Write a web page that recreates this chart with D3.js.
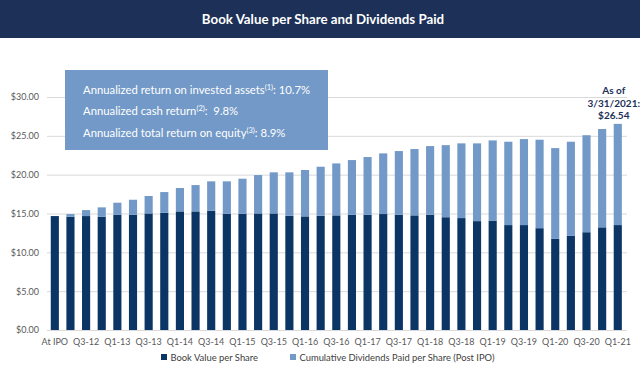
<!DOCTYPE html>
<html>
<head>
<meta charset="utf-8">
<script src="https://cdn.jsdelivr.net/npm/d3@7"></script>
<style>
  body { margin: 0; background: #fff; }
  text { font-family: Lato, "Open Sans", sans-serif; }
</style>
</head>
<body>
<script>
// quarters (only every other one gets a label)
var quarters = ["At IPO","Q2-12","Q3-12","Q4-12","Q1-13","Q2-13","Q3-13","Q4-13","Q1-14","Q2-14",
  "Q3-14","Q4-14","Q1-15","Q2-15","Q3-15","Q4-15","Q1-16","Q2-16","Q3-16","Q4-16","Q1-17","Q2-17",
  "Q3-17","Q4-17","Q1-18","Q2-18","Q3-18","Q4-18","Q1-19","Q2-19","Q3-19","Q4-19","Q1-20","Q2-20",
  "Q3-20","Q4-20","Q1-21"];
var bookValue = [14.67,14.58,14.67,14.58,14.84,14.84,15.01,15.10,15.27,15.27,15.36,14.97,14.97,15.01,
  15.01,14.71,14.63,14.71,14.76,14.84,14.84,14.93,14.84,14.76,14.84,14.52,14.41,14.02,14.09,13.51,
  13.51,13.11,11.73,12.12,12.59,13.22,13.51];
var dividends = [0,0.35,0.77,1.21,1.55,1.93,2.24,2.66,3.01,3.39,3.78,4.17,4.51,4.94,5.29,5.59,5.97,
  6.31,6.69,7.04,7.43,7.81,8.20,8.54,8.84,9.28,9.62,10.01,10.32,10.73,11.07,11.39,11.69,12.12,12.49,
  12.66,13.03];
var yTicks = [0,5,10,15,20,25,30];
var seriesNames = ["Book Value per Share","Cumulative Dividends Paid per Share (Post IPO)"];
var colors = ["#0b3565","#7299c7"];

var width = 640, height = 368;
var svg = d3.select("body").append("svg")
    .attr("width", width)
    .attr("height", height);

// title banner
svg.append("rect").attr("width", width).attr("height", 38).attr("fill", "#1c3058");
svg.append("text")
    .attr("x", 323).attr("y", 24)
    .attr("text-anchor", "middle")
    .attr("fill", "#fff")
    .attr("font-size", 13.3)
    .attr("font-weight", "bold")
    .text("Book Value per Share and Dividends Paid");

var x = d3.scaleBand().domain(quarters).range([47, 625.6]).paddingInner(0.48).paddingOuter(0.24);
var y = d3.scaleLinear().domain([0, 30]).range([330, 97]);

// gridlines + y labels
var yAxis = svg.append("g")
    .attr("transform", "translate(47,0)")
    .call(d3.axisLeft(y).tickValues(yTicks).tickSize(-(627 - 47)).tickPadding(8)
      .tickFormat(function(d){ return "$" + d.toFixed(2); }));
yAxis.select(".domain").remove();
yAxis.selectAll("line").attr("stroke", "#d9d9d9");
yAxis.selectAll("text").attr("fill", "#595959").attr("font-size", 9);

var rows = quarters.map(function(q, i){ return {q: q, bv: bookValue[i], div: dividends[i]}; });

svg.selectAll(".bv").data(rows).enter().append("rect")
    .attr("x", function(d){ return x(d.q); })
    .attr("width", x.bandwidth())
    .attr("y", function(d){ return y(d.bv); })
    .attr("height", function(d){ return y(0) - y(d.bv); })
    .attr("fill", colors[0]);

svg.selectAll(".div").data(rows).enter().append("rect")
    .attr("x", function(d){ return x(d.q); })
    .attr("width", x.bandwidth())
    .attr("y", function(d){ return y(d.bv + d.div); })
    .attr("height", function(d){ return y(d.bv) - y(d.bv + d.div); })
    .attr("fill", colors[1]);

// x labels
var xAxis = svg.append("g")
    .attr("transform", "translate(0,330)")
    .call(d3.axisBottom(x).tickValues(quarters.filter(function(d, i){ return i % 2 == 0; }))
      .tickSize(0).tickPadding(9));
xAxis.select(".domain").remove();
xAxis.selectAll("text").attr("fill", "#595959").attr("font-size", 9);

// returns box
svg.append("rect")
    .attr("x", 65).attr("y", 70).attr("width", 263).attr("height", 80)
    .attr("fill", "#7299c7");
var boxLines = [
  ["Annualized return on invested assets", "(1)", ": 10.7%"],
  ["Annualized cash return", "(2)", ":  9.8%"],
  ["Annualized total return on equity", "(3)", ": 8.9%"]
];
boxLines.forEach(function(l, i){
  var t = svg.append("text")
      .attr("x", 83).attr("y", 94 + i * 21.3)
      .attr("fill", "#fff").attr("font-size", 11.3)
      .attr("xml:space", "preserve");
  t.append("tspan").text(l[0]);
  t.append("tspan").attr("font-size", 7.5).attr("dy", -4).text(l[1]);
  t.append("tspan").attr("dy", 4).text(l[2]);
});

// as-of annotation
var lastQ = quarters[quarters.length - 1];
var ann = ["As of", "3/31/2021:", "$" + (bookValue[36] + dividends[36]).toFixed(2)];
ann.forEach(function(s, i){
  svg.append("text")
      .attr("x", x(lastQ) + x.bandwidth() / 2 - 4).attr("y", 94 + i * 12.5)
      .attr("text-anchor", "middle")
      .attr("fill", "#1c3058").attr("font-size", 10).attr("font-weight", "bold")
      .text(s);
});

// legend
var legX = [161, 290];
seriesNames.forEach(function(n, i){
  svg.append("rect").attr("x", legX[i]).attr("y", 354).attr("width", 6).attr("height", 6).attr("fill", colors[i]);
  svg.append("text").attr("x", legX[i] + 9.5).attr("y", 360.5)
      .attr("fill", "#404040").attr("font-size", 9.4).text(n);
});
</script>
</body>
</html>
